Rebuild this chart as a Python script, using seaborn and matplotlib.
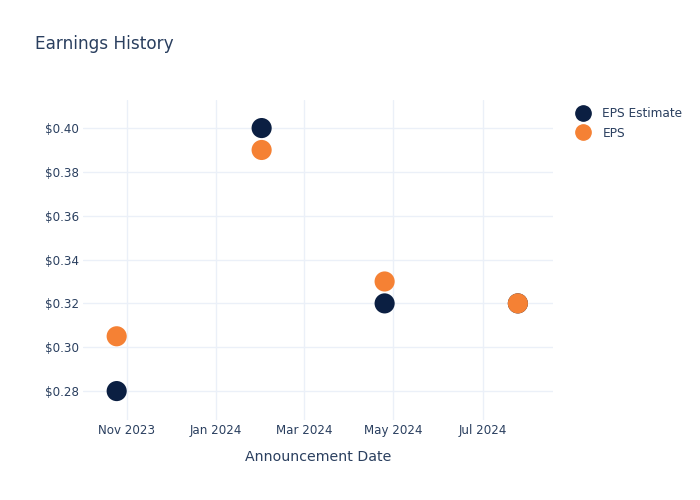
import matplotlib
matplotlib.use("Agg")
import matplotlib.pyplot as plt
import matplotlib.dates as mdates
import matplotlib.ticker as mticker
from matplotlib.lines import Line2D
import seaborn as sns
import pandas as pd

dates = ["2023-10-25", "2024-02-01", "2024-04-25", "2024-07-25"]
eps_estimate = [0.28, 0.40, 0.32, 0.32]
eps_actual = [0.305, 0.39, 0.33, 0.32]
series_names = ["EPS Estimate", "EPS"]
colors = ["#0B1F42", "#F58134"]

df = pd.DataFrame({
    "date": pd.to_datetime(dates * 2),
    "value": eps_estimate + eps_actual,
    "series": [series_names[0]] * len(dates) + [series_names[1]] * len(dates),
})

sns.set_theme(style="white")
plt.rcParams["font.family"] = ["DejaVu Sans"]
text_color = "#2A3F5F"
grid_color = "#EBF0F8"

fig = plt.figure(figsize=(7, 5), dpi=100)
ax = fig.add_axes([83 / 700, 0.16, (553 - 83) / 700, 0.64])

sns.scatterplot(data=df, x="date", y="value", hue="series", hue_order=series_names,
                palette=colors, s=210, edgecolor="none", ax=ax,
                legend=False, zorder=3)

ax.set_xlim(pd.Timestamp("2023-10-02"), pd.Timestamp("2024-08-18"))
ax.set_ylim(0.2668, 0.4128)
ax.xaxis.set_major_locator(mdates.MonthLocator(bymonth=[1, 3, 5, 7, 11]))
ax.xaxis.set_major_formatter(mdates.DateFormatter("%b %Y"))
ax.set_yticks([0.28, 0.30, 0.32, 0.34, 0.36, 0.38, 0.40])
ax.yaxis.set_major_formatter(mticker.FuncFormatter(lambda v, p: f"${v:.2f}"))

ax.grid(True, color=grid_color, linewidth=1)
ax.set_axisbelow(True)
for s in ax.spines.values():
    s.set_visible(False)
ax.tick_params(axis="x", length=0, labelsize=8.6, colors=text_color, pad=3)
ax.tick_params(axis="y", length=0, labelsize=8.6, colors=text_color, pad=3)
ax.set_xlabel("Announcement Date", fontsize=10.2, color=text_color, labelpad=9.5)
ax.set_ylabel("")

fig.text(35 / 700, 1 - 44 / 500, "Earnings History", fontsize=12.2, color=text_color,
         va="center", ha="left")

handles = [Line2D([], [], marker="o", linestyle="", markersize=11, color=c) for c in colors]
fig.legend(handles, series_names, loc="upper left", bbox_to_anchor=(571 / 700, 1 - 102 / 500),
           frameon=False, fontsize=8.7, labelcolor=text_color, handletextpad=1.0,
           labelspacing=0.56, borderaxespad=0, handlelength=1.2)

fig.savefig("out.png", dpi=100, facecolor="white")
